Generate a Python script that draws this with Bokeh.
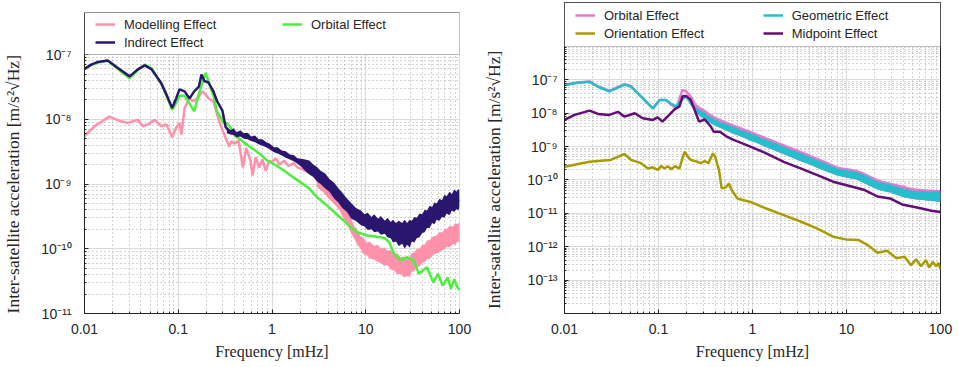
from bokeh.plotting import figure
from bokeh.layouts import row
from bokeh.models import Range1d, FixedTicker, BoxAnnotation, Legend, LegendItem
from bokeh.embed import file_html
from bokeh.resources import INLINE

# ---------------- tick labels ----------------
x_tick_values = [0.01, 0.1, 1, 10, 100]
x_tick_labels = ["0.01", "0.1", "1", "10", "100"]
left_y_tick_values = [1e-11, 1e-10, 1e-9, 1e-8, 1e-7]
left_y_tick_labels = ["10⁻¹¹", "10⁻¹⁰", "10⁻⁹", "10⁻⁸", "10⁻⁷"]
right_y_tick_values = [1e-13, 1e-12, 1e-11, 1e-10, 1e-9, 1e-8, 1e-7]
right_y_tick_labels = ["10⁻¹³", "10⁻¹²", "10⁻¹¹", "10⁻¹⁰", "10⁻⁹", "10⁻⁸", "10⁻⁷"]

# ---------------- left panel data ----------------
mod_f = [0.01, 0.0128, 0.0184, 0.0245, 0.029, 0.037, 0.042, 0.049, 0.056, 0.066, 0.075, 0.086, 0.095, 0.103, 0.108,
         0.117, 0.132, 0.143, 0.16, 0.181, 0.196, 0.21, 0.237, 0.27, 0.31, 0.35, 0.37, 0.40, 0.44, 0.49, 0.53, 0.59,
         0.62, 0.67, 0.73, 0.79, 0.86, 0.93, 1.0, 1.1, 1.2, 1.35, 1.5, 1.7, 1.87, 2.1, 2.6, 3.0, 3.6, 4.6, 5.8, 7.0,
         8.1, 9.4, 12.3, 17, 21.7, 27.6, 35, 45, 57, 73, 100]
mod_v = [5.5e-9, 7.8e-9, 1.1e-8, 9.3e-9, 8.8e-9, 9.8e-9, 7.8e-9, 8.6e-9, 9.8e-9, 7.8e-9, 8.3e-9, 5.3e-9, 7.4e-9, 8.8e-9,
         5.8e-9, 1.5e-8, 2.1e-8, 1.9e-8, 2.1e-8, 2.7e-8, 2.4e-8, 2.1e-8, 1.9e-8, 9.8e-9, 5.8e-9, 3.8e-9, 4.6e-9, 4.2e-9,
         4.7e-9, 1.8e-9, 3.6e-9, 2.3e-9, 1.35e-9, 2.6e-9, 1.8e-9, 2.4e-9, 1.6e-9, 2.3e-9, 2.2e-9, 2.5e-9, 2.0e-9, 2.3e-9,
         1.9e-9, 2.1e-9, 1.8e-9, 1.7e-9, 1.45e-9, 1.2e-9, 1.0e-9, 6.3e-10, 4.0e-10, 2.3e-10, 1.5e-10, 1.1e-10, 8.5e-11,
         7.2e-11, 5.3e-11, 5.0e-11, 7.2e-11, 1.0e-10, 1.35e-10, 1.4e-10, 1.8e-10]
mod_band_f = [3.0, 3.5, 4.0, 4.6, 5.2, 5.8, 6.4, 7.0, 7.6, 8.1, 8.8, 9.4, 10.2, 11, 12.3, 13.4, 14.5, 15.8, 17, 18.5,
              20, 21.8, 23.6, 25.5, 27.6, 29.5, 31, 33, 35, 37.5, 40, 42.5, 45, 48, 52, 57, 61, 66, 70, 73, 78, 85,
              90, 95, 100]
mod_band_hi = [1.3e-9, 1.05e-9, 9.5e-10, 7.9e-10, 6.0e-10, 4.8e-10, 3.6e-10, 2.9e-10, 2.2e-10, 2.0e-10, 1.55e-10,
               1.5e-10, 1.25e-10, 1.3e-10, 1.1e-10, 1.15e-10, 1.0e-10, 1.05e-10, 9.3e-11, 9.6e-11, 8.2e-11, 8.5e-11,
               7.4e-11, 7.6e-11, 6.8e-11, 7.6e-11, 8.5e-11, 8.8e-11, 1.0e-10, 1.0e-10, 1.15e-10, 1.15e-10, 1.35e-10,
               1.35e-10, 1.55e-10, 1.6e-10, 1.8e-10, 1.8e-10, 2.05e-10, 2.0e-10, 2.25e-10, 2.2e-10, 2.5e-10, 2.4e-10,
               2.6e-10]
mod_band_lo = [9.0e-10, 7.5e-10, 6.0e-10, 4.9e-10, 4.0e-10, 2.9e-10, 2.3e-10, 1.7e-10, 1.4e-10, 1.15e-10, 1.0e-10,
               8.3e-11, 8.0e-11, 7.0e-11, 6.8e-11, 6.2e-11, 6.0e-11, 5.4e-11, 5.6e-11, 4.8e-11, 4.6e-11, 4.0e-11,
               4.1e-11, 3.6e-11, 3.8e-11, 3.7e-11, 4.4e-11, 4.5e-11, 5.2e-11, 5.3e-11, 6.0e-11, 6.2e-11, 6.9e-11,
               7.0e-11, 8.0e-11, 8.5e-11, 8.8e-11, 9.6e-11, 1.0e-10, 1.08e-10, 1.05e-10, 1.18e-10, 1.15e-10, 1.3e-10,
               1.26e-10]

orb_f = [0.01, 0.0118, 0.0139, 0.0177, 0.0227, 0.0303, 0.037, 0.044, 0.052, 0.066, 0.075, 0.086, 0.095, 0.103, 0.117,
         0.137, 0.148, 0.166, 0.18, 0.196, 0.21, 0.24, 0.26, 0.28, 0.30, 0.33, 0.36, 0.40, 0.45, 0.50, 0.59, 0.75, 0.89,
         1.1, 1.35, 1.65, 2.0, 2.5, 3.0, 3.9, 4.6, 5.7, 7.0, 8.1, 10.4, 14.5, 16, 17.8, 20, 23.6, 27.6, 32.5, 36.8, 45,
         52.7, 59, 66, 75, 81, 88, 94, 100]
orb_v = [6.0e-8, 6.9e-8, 7.5e-8, 8.0e-8, 6.0e-8, 4.3e-8, 5.7e-8, 7.0e-8, 6.1e-8, 3.5e-8, 2.3e-8, 1.4e-8, 1.8e-8, 2.3e-8,
         2.3e-8, 1.6e-8, 1.33e-8, 2.5e-8, 3.6e-8, 5.2e-8, 3.9e-8, 2.2e-8, 1.3e-8, 1.1e-8, 9.0e-9, 8.7e-9, 7.5e-9,
         5.6e-9, 5.0e-9, 4.4e-9, 3.7e-9, 2.9e-9, 2.3e-9, 1.95e-9, 1.6e-9, 1.3e-9, 1.07e-9, 8.5e-10, 6.3e-10, 4.6e-10,
         3.7e-10, 2.8e-10, 2.1e-10, 1.8e-10, 1.6e-10, 1.5e-10, 1.45e-10, 1.26e-10, 8.4e-11, 6.6e-11, 7.4e-11, 6.6e-11,
         4.1e-11, 5.2e-11, 3.0e-11, 4.1e-11, 2.7e-11, 3.6e-11, 2.4e-11, 3.4e-11, 2.6e-11, 2.3e-11]

ind_f = [0.01, 0.0118, 0.0139, 0.0177, 0.0227, 0.0303, 0.037, 0.044, 0.052, 0.066, 0.075, 0.086, 0.095, 0.103, 0.117,
         0.132, 0.148, 0.166, 0.177, 0.19, 0.21, 0.237, 0.26, 0.296, 0.32, 0.35, 0.4, 0.5, 0.6, 0.7, 0.8, 0.9, 1.0,
         1.2, 1.4, 1.7, 2.0, 2.5, 3.0, 3.6, 4.6, 5.8, 7.0, 8.9, 12.3, 17, 21.7, 27.6, 35, 45, 57, 73, 93, 100]
ind_v = [6.0e-8, 7.0e-8, 7.7e-8, 8.1e-8, 6.2e-8, 4.6e-8, 5.9e-8, 6.8e-8, 5.9e-8, 3.6e-8, 2.4e-8, 1.5e-8, 2.1e-8, 2.9e-8,
         2.7e-8, 2.1e-8, 2.7e-8, 3.2e-8, 4.9e-8, 3.9e-8, 3.7e-8, 2.7e-8, 1.9e-8, 1.36e-8, 7.6e-9, 6.5e-9, 6.2e-9,
         5.6e-9, 5.0e-9, 4.6e-9, 4.2e-9, 3.9e-9, 3.5e-9, 3.1e-9, 2.8e-9, 2.45e-9, 2.15e-9, 1.7e-9, 1.4e-9, 1.1e-9,
         7.8e-10, 5.5e-10, 3.9e-10, 2.9e-10, 2.5e-10, 2.1e-10, 1.7e-10, 1.6e-10, 2.2e-10, 3.0e-10, 3.8e-10, 4.7e-10,
         5.5e-10, 5.6e-10]
ind_band_f = [0.33, 0.36, 0.39, 0.42, 0.46, 0.5, 0.55, 0.6, 0.66, 0.72, 0.79, 0.87, 0.95, 1.05, 1.15, 1.27, 1.4, 1.55,
              1.7, 1.87, 2.05, 2.25, 2.5, 2.75, 3.0, 3.3, 3.7, 4.1, 4.6, 5.1, 5.6, 6.3, 7.0, 7.8, 8.9, 9.7, 10.5, 11.5,
              12.3, 13.5, 14.5, 16, 17, 18.5, 19.5, 21, 22.5, 24.5, 26, 27.6, 29.5, 31, 33, 35, 37.5, 40, 42.5, 45,
              48, 51, 54, 57, 61, 65, 69, 73, 78, 83, 88, 93, 97, 100]
ind_band_hi = [7.6e-9, 6.8e-9, 7.3e-9, 6.3e-9, 6.8e-9, 6.1e-9, 6.2e-9, 5.4e-9, 5.6e-9, 4.9e-9, 4.9e-9, 4.4e-9, 4.2e-9,
               3.7e-9, 3.7e-9, 3.3e-9, 3.2e-9, 2.85e-9, 2.8e-9, 2.5e-9, 2.45e-9, 2.4e-9, 2.3e-9, 2.0e-9, 1.85e-9,
               1.6e-9, 1.45e-9, 1.2e-9, 1.05e-9, 8.6e-10, 7.4e-10, 6.0e-10, 5.1e-10, 4.3e-10, 3.9e-10, 3.4e-10,
               3.6e-10, 3.1e-10, 3.4e-10, 2.9e-10, 3.2e-10, 2.7e-10, 3.0e-10, 2.6e-10, 2.8e-10, 2.5e-10, 2.7e-10,
               2.5e-10, 2.8e-10, 2.5e-10, 2.8e-10, 2.7e-10, 3.1e-10, 3.0e-10, 3.5e-10, 3.4e-10, 4.0e-10, 3.9e-10,
               4.6e-10, 4.4e-10, 5.2e-10, 5.0e-10, 5.9e-10, 5.6e-10, 6.8e-10, 6.5e-10, 7.6e-10, 7.0e-10, 8.2e-10,
               7.6e-10, 8.4e-10, 7.9e-10]
ind_band_lo = [6.1e-9, 5.8e-9, 5.7e-9, 5.3e-9, 5.4e-9, 5.0e-9, 4.9e-9, 4.6e-9, 4.4e-9, 4.1e-9, 3.9e-9, 3.7e-9, 3.4e-9,
               3.1e-9, 2.95e-9, 2.75e-9, 2.55e-9, 2.4e-9, 2.25e-9, 2.05e-9, 1.85e-9, 1.6e-9, 1.4e-9, 1.3e-9, 1.1e-9,
               1.0e-9, 8.5e-10, 7.6e-10, 6.0e-10, 5.2e-10, 4.3e-10, 3.7e-10, 2.9e-10, 2.7e-10, 2.3e-10, 2.2e-10,
               1.95e-10, 2.0e-10, 1.8e-10, 1.85e-10, 1.65e-10, 1.7e-10, 1.5e-10, 1.45e-10, 1.25e-10, 1.3e-10, 1.1e-10,
               1.2e-10, 1.0e-10, 1.15e-10, 1.05e-10, 1.3e-10, 1.25e-10, 1.45e-10, 1.5e-10, 1.75e-10, 1.8e-10, 2.1e-10,
               2.1e-10, 2.5e-10, 2.4e-10, 2.8e-10, 2.7e-10, 3.1e-10, 3.0e-10, 3.5e-10, 3.3e-10, 3.9e-10, 3.7e-10,
               4.1e-10, 3.9e-10, 4.4e-10]

# ---------------- right panel data ----------------
orbR_f = [0.01, 0.0139, 0.0185, 0.0227, 0.030, 0.0435, 0.051, 0.065, 0.087, 0.103, 0.12, 0.137, 0.154, 0.18, 0.197,
          0.22, 0.25, 0.28, 0.31, 0.36, 0.47, 0.63, 0.95, 1.4, 2.15, 3.3, 4.9, 7.2, 9.1, 12.5, 15.6, 21.4, 29, 40, 55,
          75, 100]
orbR_v = [7.1e-8, 8.3e-8, 8.9e-8, 6.3e-8, 4.7e-8, 7.4e-8, 6.5e-8, 3.2e-8, 1.4e-8, 2.5e-8, 2.5e-8, 1.8e-8, 1.4e-8,
          5.0e-8, 4.5e-8, 3.2e-8, 1.6e-8, 9.5e-9, 9.5e-9, 6.5e-9, 5.0e-9, 3.2e-9, 2.0e-9, 1.25e-9, 8.0e-10, 5.0e-10,
          3.2e-10, 2.0e-10, 1.7e-10, 1.5e-10, 1.2e-10, 7.5e-11, 6.0e-11, 4.5e-11, 3.8e-11, 3.6e-11, 3.5e-11]
geo_f = [0.01, 0.0139, 0.0185, 0.0227, 0.030, 0.0435, 0.051, 0.065, 0.087, 0.103, 0.12, 0.137, 0.154, 0.18, 0.197,
         0.22, 0.25, 0.279, 0.33, 0.42, 0.63, 0.95, 1.4, 2.15, 3.3, 4.9, 7.2, 9.1, 12.5, 15.6, 21.4, 29, 40, 55, 75, 100]
geo_v = [7.0e-8, 8.2e-8, 8.7e-8, 6.2e-8, 4.5e-8, 7.2e-8, 6.3e-8, 3.2e-8, 1.4e-8, 2.5e-8, 2.5e-8, 1.9e-8, 1.6e-8,
         2.6e-8, 3.2e-8, 2.0e-8, 1.3e-8, 9.5e-9, 6.3e-9, 4.5e-9, 2.8e-9, 1.8e-9, 1.15e-9, 7.3e-10, 4.6e-10, 3.0e-10,
         1.9e-10, 1.6e-10, 1.4e-10, 1.05e-10, 6.7e-11, 5.6e-11, 4.1e-11, 3.4e-11, 3.3e-11, 3.2e-11]
bandR_f = [0.25, 0.28, 0.31, 0.35, 0.4, 0.45, 0.5, 0.56, 0.63, 0.72, 0.82, 0.95, 1.1, 1.25, 1.4, 1.65, 1.9, 2.15, 2.5,
           2.9, 3.3, 3.8, 4.3, 4.9, 5.6, 6.4, 7.2, 8.1, 9.1, 10.5, 12.5, 14, 15.6, 18, 21.4, 25, 29, 34, 40, 47, 55,
           64, 75, 87, 100]
geo_band_hi = [1.45e-8, 1.2e-8, 1.05e-8, 8.0e-9, 6.5e-9, 5.6e-9, 5.0e-9, 4.4e-9, 3.9e-9, 3.3e-9, 2.9e-9, 2.5e-9,
               2.1e-9, 1.8e-9, 1.6e-9, 1.35e-9, 1.15e-9, 1.0e-9, 8.4e-10, 7.2e-10, 6.2e-10, 5.3e-10, 4.6e-10, 3.9e-10,
               3.4e-10, 2.9e-10, 2.5e-10, 2.2e-10, 2.05e-10, 1.95e-10, 1.8e-10, 1.6e-10, 1.4e-10, 1.15e-10, 9.0e-11,
               8.0e-11, 7.4e-11, 6.4e-11, 5.6e-11, 5.0e-11, 4.6e-11, 4.7e-11, 4.5e-11, 4.6e-11, 4.7e-11]
geo_band_lo = [1.05e-8, 8.0e-9, 6.5e-9, 5.3e-9, 4.2e-9, 3.7e-9, 3.2e-9, 2.8e-9, 2.4e-9, 2.1e-9, 1.8e-9, 1.5e-9,
               1.3e-9, 1.1e-9, 9.6e-10, 8.0e-10, 6.8e-10, 5.9e-10, 5.0e-10, 4.2e-10, 3.6e-10, 3.1e-10, 2.7e-10,
               2.3e-10, 2.0e-10, 1.7e-10, 1.5e-10, 1.35e-10, 1.25e-10, 1.15e-10, 1.05e-10, 9.2e-11, 7.9e-11, 6.5e-11,
               5.2e-11, 4.6e-11, 4.2e-11, 3.6e-11, 3.1e-11, 2.8e-11, 2.6e-11, 2.5e-11, 2.4e-11, 2.3e-11, 2.2e-11]
orbR_band_hi = [1.9e-8, 1.5e-8, 1.3e-8, 1.0e-8, 7.8e-9, 6.8e-9, 6.0e-9, 5.3e-9, 4.6e-9, 4.0e-9, 3.5e-9, 3.0e-9,
                2.5e-9, 2.2e-9, 1.9e-9, 1.6e-9, 1.35e-9, 1.2e-9, 1.0e-9, 8.6e-10, 7.4e-10, 6.3e-10, 5.4e-10, 4.6e-10,
                4.0e-10, 3.4e-10, 2.9e-10, 2.55e-10, 2.35e-10, 2.25e-10, 2.05e-10, 1.85e-10, 1.65e-10, 1.35e-10,
                1.07e-10, 9.2e-11, 8.4e-11, 7.6e-11, 6.8e-11, 6.0e-11, 5.6e-11, 5.4e-11, 5.2e-11, 5.1e-11, 5.0e-11]
orbR_band_lo = [1.05e-8, 8.0e-9, 6.5e-9, 5.3e-9, 4.2e-9, 3.7e-9, 3.2e-9, 2.8e-9, 2.4e-9, 2.1e-9, 1.8e-9, 1.5e-9,
                1.3e-9, 1.1e-9, 9.6e-10, 8.0e-10, 6.8e-10, 5.9e-10, 5.0e-10, 4.2e-10, 3.6e-10, 3.1e-10, 2.7e-10,
                2.3e-10, 2.0e-10, 1.7e-10, 1.5e-10, 1.35e-10, 1.25e-10, 1.15e-10, 1.05e-10, 9.2e-11, 7.9e-11, 6.5e-11,
                5.2e-11, 4.6e-11, 4.2e-11, 3.6e-11, 3.1e-11, 2.8e-11, 2.6e-11, 2.5e-11, 2.4e-11, 2.3e-11, 2.2e-11]
ori_f = [0.01, 0.0185, 0.031, 0.0435, 0.051, 0.065, 0.077, 0.087, 0.098, 0.107, 0.116, 0.125, 0.137, 0.15, 0.167, 0.18,
         0.19, 0.205, 0.22, 0.26, 0.279, 0.31, 0.34, 0.38, 0.40, 0.44, 0.47, 0.52, 0.56, 0.6, 0.69, 0.95, 1.4, 2.15,
         3.3, 4.9, 7.2, 9.8, 13.4, 17, 21.4, 27, 34, 41.5, 48.6, 55, 62, 70, 75.6, 83, 90, 95, 100]
ori_v = [2.5e-10, 3.5e-10, 4.0e-10, 6.0e-10, 4.0e-10, 3.2e-10, 2.2e-10, 2.4e-10, 2.0e-10, 2.6e-10, 2.2e-10, 2.6e-10,
         2.1e-10, 2.6e-10, 2.2e-10, 4.5e-10, 7.1e-10, 5.0e-10, 4.0e-10, 3.5e-10, 3.2e-10, 3.7e-10, 3.2e-10, 6.3e-10,
         5.0e-10, 2.0e-10, 5.6e-11, 6.0e-11, 7.9e-11, 5.0e-11, 2.8e-11, 2.2e-11, 1.4e-11, 8.9e-12, 5.6e-12, 3.5e-12,
         2.0e-12, 1.66e-12, 1.6e-12, 1.1e-12, 6.6e-13, 7.6e-13, 4.5e-13, 5.0e-13, 2.8e-13, 4.2e-13, 2.6e-13, 4.0e-13,
         2.4e-13, 3.5e-13, 2.6e-13, 3.3e-13, 2.1e-13]
mid_f = [0.01, 0.0128, 0.0185, 0.0227, 0.03, 0.037, 0.0435, 0.056, 0.068, 0.087, 0.098, 0.11, 0.13, 0.148, 0.167, 0.18,
         0.197, 0.22, 0.25, 0.27, 0.31, 0.36, 0.386, 0.45, 0.53, 0.63, 0.95, 1.4, 2.15, 3.3, 4.9, 7.2, 9.8, 15.6, 21.4,
         29, 40, 50, 63, 80, 100]
mid_v = [6.3e-9, 8.9e-9, 1.2e-8, 9.5e-9, 8.9e-9, 1.1e-8, 7.9e-9, 1.0e-8, 7.1e-9, 6.3e-9, 7.5e-9, 5.6e-9, 8.9e-9,
         1.3e-8, 1.6e-8, 3.2e-8, 3.3e-8, 2.5e-8, 1.0e-8, 5.6e-9, 6.5e-9, 4.0e-9, 2.8e-9, 2.8e-9, 2.0e-9, 1.6e-9,
         1.0e-9, 6.3e-10, 3.5e-10, 2.2e-10, 1.4e-10, 8.9e-11, 7.1e-11, 5.0e-11, 3.2e-11, 2.8e-11, 1.8e-11, 1.6e-11,
         1.4e-11, 1.2e-11, 1.1e-11]

# ---------------- styling ----------------
AX = "#262626"
SANS = "Liberation Sans"
SERIF = "Liberation Serif"
LW = 2.5
YLABEL = "Inter-satellite acceleration [m/s²√Hz]"


def minor_list(e_lo, e_hi):
    return [m * 10.0 ** e for e in range(e_lo, e_hi) for m in range(2, 10)]


def make_fig(width, y_lo, y_top, border_right, y_ticks, y_labels, y_minor_lo, y_minor_hi,
             label_standoff, title_standoff, pad):
    p = figure(width=width, height=367, x_axis_type="log", y_axis_type="log", title=None,
               x_range=Range1d(0.01, 100), y_range=Range1d(y_lo, y_top),
               output_backend="svg", toolbar_location=None,
               min_border_left=84, min_border_right=border_right,
               min_border_top=2, min_border_bottom=54)
    xt = FixedTicker(ticks=x_tick_values, minor_ticks=minor_list(-2, 2))
    yt = FixedTicker(ticks=y_ticks, minor_ticks=minor_list(y_minor_lo, y_minor_hi))
    p.xaxis.ticker = xt
    p.xgrid.ticker = xt
    p.yaxis.ticker = yt
    p.ygrid.ticker = yt
    p.xaxis.major_label_overrides = dict(zip(x_tick_values, x_tick_labels))
    p.yaxis.major_label_overrides = dict(zip(y_ticks, y_labels))
    p.grid.grid_line_color = "#DCDCDC"
    p.grid.grid_line_width = 1.2
    p.grid.minor_grid_line_color = "#A8A8A8"
    p.grid.minor_grid_line_dash = "1 3"
    p.grid.minor_grid_line_width = 1
    p.axis.axis_line_color = AX
    p.axis.major_tick_line_color = AX
    p.axis.minor_tick_line_color = AX
    p.axis.major_tick_in = 4
    p.axis.major_tick_out = 0
    p.axis.minor_tick_in = 2
    p.axis.minor_tick_out = 0
    p.axis.major_label_text_font = SANS
    p.axis.major_label_text_font_size = "14px"
    p.axis.major_label_text_color = AX
    p.xaxis.major_label_standoff = 10
    p.yaxis.major_label_standoff = label_standoff
    p.axis.axis_label_text_font = SERIF
    p.axis.axis_label_text_font_style = "normal"
    p.axis.axis_label_text_color = AX
    p.xaxis.axis_label = "Frequency [mHz]"
    p.xaxis.axis_label_text_font_size = "16px"
    p.xaxis.axis_label_standoff = 6
    p.yaxis.axis_label = YLABEL + "\u00a0" * pad
    p.yaxis.axis_label_text_font_size = "17.5px"
    p.yaxis.axis_label_standoff = title_standoff
    p.outline_line_color = AX
    p.outline_line_alpha = 1
    p.background_fill_color = "white"
    p.border_fill_color = "white"
    return p


def add_legend(p, items, x, y):
    lg = Legend(items=items, location=(x, y), orientation="vertical", padding=0, margin=0, spacing=2,
                glyph_width=20, glyph_height=16, label_height=16, label_standoff=9,
                label_text_font=SANS, label_text_font_size="13px", label_text_color=AX,
                border_line_color=None, background_fill_alpha=0)
    p.add_layout(lg)


# ---------------- left panel ----------------
c_mod, c_orb, c_ind = "#FF91AB", "#4BF03C", "#2A166E"
LEFT_TOP = 10 ** -6.196      # frame top (canvas y = 2)
LEFT_BOX_TOP = 10 ** -6.351  # visible box top (canvas y = 12)
p1 = make_fig(480, 1e-11, LEFT_TOP, 21, left_y_tick_values, left_y_tick_labels, -11, -7, 13, 15, 12)
p1.outline_line_color = None
p1.yaxis.bounds = (1e-11, LEFT_BOX_TOP)
p1.varea(x=mod_band_f, y1=mod_band_lo, y2=mod_band_hi, fill_color=c_mod)
r_mod = p1.line(mod_f, mod_v, line_color=c_mod, line_width=LW)
r_orb = p1.line(orb_f, orb_v, line_color=c_orb, line_width=LW)
p1.varea(x=ind_band_f, y1=ind_band_lo, y2=ind_band_hi, fill_color=c_ind)
r_ind = p1.line(ind_f, ind_v, line_color=c_ind, line_width=LW)
p1.add_layout(BoxAnnotation(bottom=LEFT_BOX_TOP, fill_color="white", fill_alpha=1, line_color=None))
p1.add_layout(BoxAnnotation(bottom=1e-7, top=LEFT_BOX_TOP, fill_color="white", fill_alpha=1,
                            line_color=AX, line_width=1))
p1.add_layout(BoxAnnotation(bottom=1e-11, top=LEFT_BOX_TOP, fill_alpha=0, line_color=AX, line_width=1))
add_legend(p1, [LegendItem(label="Modelling Effect", renderers=[r_mod]),
                LegendItem(label="Indirect Effect", renderers=[r_ind])], 11, 263)
add_legend(p1, [LegendItem(label="Orbital Effect", renderers=[r_orb])], 198, 281)

# ---------------- right panel ----------------
c_orbR, c_geo, c_ori, c_mid = "#E47ACD", "#26BECD", "#A89C00", "#640C78"
p2 = make_fig(479, 1e-14, 10 ** -4.683, 19, right_y_tick_values, right_y_tick_labels, -14, -6, 7, 20, 10)
p2.varea(x=bandR_f, y1=orbR_band_lo, y2=orbR_band_hi, fill_color=c_orbR)
r_orbR = p2.line(orbR_f, orbR_v, line_color=c_orbR, line_width=LW)
p2.varea(x=bandR_f, y1=geo_band_lo, y2=geo_band_hi, fill_color=c_geo)
r_geo = p2.line(geo_f, geo_v, line_color=c_geo, line_width=LW)
r_ori = p2.line(ori_f, ori_v, line_color=c_ori, line_width=LW)
r_mid = p2.line(mid_f, mid_v, line_color=c_mid, line_width=LW)
p2.add_layout(BoxAnnotation(bottom=1e-6, fill_color="white", fill_alpha=1, line_color=AX, line_width=1))
add_legend(p2, [LegendItem(label="Orbital Effect", renderers=[r_orbR]),
                LegendItem(label="Orientation Effect", renderers=[r_ori])], 11, 271.7)
add_legend(p2, [LegendItem(label="Geometric Effect", renderers=[r_geo]),
                LegendItem(label="Midpoint Effect", renderers=[r_mid])], 198.7, 271.7)

layout = row(p1, p2)
open("out.html", "w").write(file_html(layout, INLINE))
